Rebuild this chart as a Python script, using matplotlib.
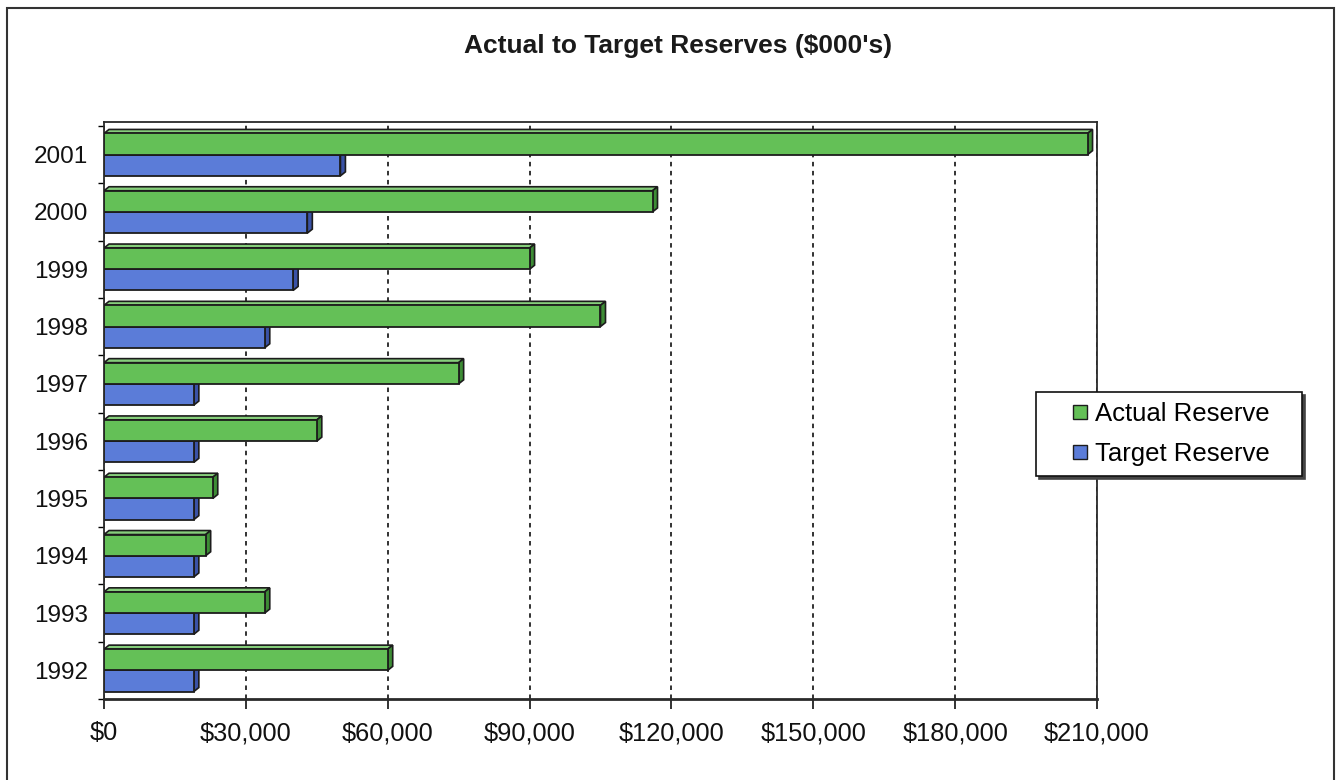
import matplotlib
matplotlib.use("Agg")
import matplotlib.pyplot as plt
from matplotlib.patches import Polygon, Rectangle
from matplotlib.lines import Line2D
from matplotlib.ticker import FuncFormatter, MultipleLocator, FixedLocator

years = [1992, 1993, 1994, 1995, 1996, 1997, 1998, 1999, 2000, 2001]
actual_reserve = [60000, 34000, 21500, 23000, 45000, 75000, 105000, 90000, 116000, 208000]
target_reserve = [19000, 19000, 19000, 19000, 19000, 19000, 34000, 40000, 43000, 50000]
series_names = ["Actual Reserve", "Target Reserve"]
chart_title = "Actual to Target Reserves ($000's)"

plt.rcParams['font.family'] = ['Liberation Sans', 'DejaVu Sans']

W, H = 1336, 780
fig = plt.figure(figsize=(W / 100, H / 100), dpi=100)
fig.patch.set_facecolor('white')
ax = fig.add_axes([104 / W, 1 - 699 / H, (1097 - 104) / W, (699 - 122) / H])

xmax = 210000
# fake 3d depth: ~5px right, ~4px up
depth_x = 5 * xmax / 993
depth_y = 4 / 57.3
bar_h = 0.37
off = 0.185
edge = '#1c1c1c'

colors = {
    "Actual Reserve": ('#64c057', '#3d8c35', '#86cf7b'),
    "Target Reserve": ('#5b7cd8', '#3a52a6', '#8499de'),
}

ypos = list(range(len(years)))


def faces(vals, shift, cols, z):
    front, side, top = cols
    for y, v in zip(ypos, vals):
        y0 = y + shift - bar_h / 2
        y1 = y0 + bar_h
        ax.add_patch(Polygon([(0, y1), (v, y1), (v + depth_x, y1 + depth_y), (depth_x, y1 + depth_y)],
                             closed=True, fc=top, ec=edge, lw=1.2, zorder=z))
        ax.add_patch(Polygon([(v, y0), (v + depth_x, y0 + depth_y), (v + depth_x, y1 + depth_y), (v, y1)],
                             closed=True, fc=side, ec=edge, lw=1.2, zorder=z))
    ax.barh([y + shift for y in ypos], vals, height=bar_h, color=front, edgecolor=edge,
            linewidth=1.3, zorder=z + 0.1)


# target first so the actual bar's front face hides its top face
faces(target_reserve, -off, colors["Target Reserve"], 2)
faces(actual_reserve, off, colors["Actual Reserve"], 3)

ax.set_xlim(0, xmax)
ax.set_ylim(-0.5, len(years) - 0.5 + depth_y)

ax.xaxis.set_major_locator(MultipleLocator(30000))
ax.xaxis.set_major_formatter(FuncFormatter(lambda v, p: '${:,.0f}'.format(v)))
ax.tick_params(axis='x', length=7, width=1.2, pad=9, labelsize=18.3, colors='#111')

ax.yaxis.set_major_locator(FixedLocator(ypos))
ax.set_yticklabels([str(y) for y in years])
ax.yaxis.set_minor_locator(FixedLocator([y - 0.5 for y in ypos] + [len(years) - 0.5]))
ax.tick_params(axis='y', which='major', length=0, pad=11.5, labelsize=17.5, colors='#111')
ax.tick_params(axis='y', which='minor', length=4, width=1.0)

ax.grid(axis='x', color='#222222', linestyle=(0, (2.5, 2.5)), linewidth=1.3)
ax.set_axisbelow(True)
for s in ax.spines.values():
    s.set_color('#2a2a2a')
    s.set_linewidth(1.3)
ax.spines['bottom'].set_linewidth(2.0)

fig.text(678 / W, 1 - 46 / H, chart_title, ha='center', va='center',
         fontsize=19, fontweight='bold', color='#1a1a1a')

handles = [Line2D([], [], linestyle='none', marker='s', markersize=10.5,
                  markerfacecolor=colors[n][0], markeredgecolor=edge, markeredgewidth=1.0)
           for n in series_names]
leg = fig.legend(handles, series_names, loc='upper left',
                 bbox_to_anchor=(1036 / W, 1 - 480 / H, 266 / W, 88 / H),
                 mode='expand', borderaxespad=0,
                 fontsize=18.5, frameon=True, fancybox=False, framealpha=1,
                 edgecolor='#111', borderpad=0.4, handlelength=2.62,
                 handletextpad=-0.73, labelspacing=0.62,
                 shadow={'color': '#444444', 'alpha': 1.0})
leg.get_frame().set_linewidth(1.2)

# outer chart border
fig.add_artist(Rectangle((7 / W, -0.05), (1334 - 7) / W, 1.05 - 8 / H,
                         transform=fig.transFigure, fill=False,
                         edgecolor='#333333', linewidth=1.5))

fig.savefig('out.png', dpi=100, facecolor='white')
